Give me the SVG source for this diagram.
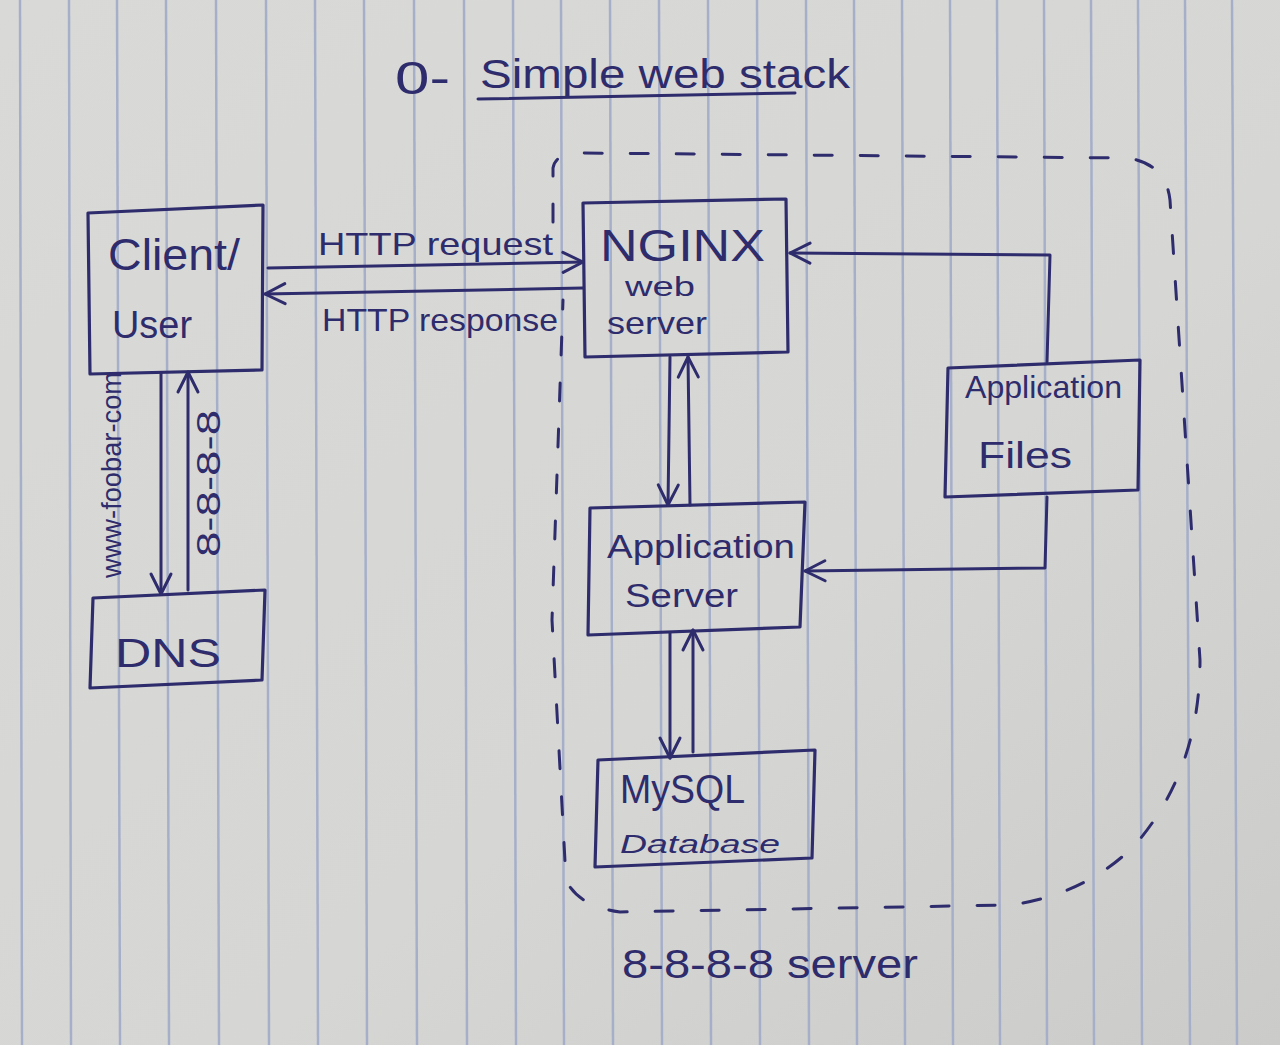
<svg xmlns="http://www.w3.org/2000/svg" width="1280" height="1045" viewBox="0 0 1280 1045">
  <defs>
    <linearGradient id="paper" x1="0" y1="0" x2="1" y2="1">
      <stop offset="0" stop-color="#d9dad7"/>
      <stop offset="0.6" stop-color="#d6d7d4"/>
      <stop offset="1" stop-color="#cbccc9"/>
    </linearGradient>
    <marker id="arr" markerUnits="userSpaceOnUse" markerWidth="26" markerHeight="26" viewBox="0 0 26 26" refX="23" refY="13" orient="auto">
      <path d="M3,3 L23,13 L3,23" fill="none" stroke="#2e2c6c" stroke-width="3" stroke-linecap="round" stroke-linejoin="round"/>
    </marker>
    <style>
      .ink { fill: none; stroke: #2e2c6c; stroke-width: 3; stroke-linejoin: round; stroke-linecap: round; }
      .box { fill: none; stroke: #2e2c6c; stroke-width: 3.2; stroke-linejoin: round; }
      .rule { stroke: #a6afca; stroke-width: 2.5; }
      .dash { fill: none; stroke: #2e2c6c; stroke-width: 3; stroke-dasharray: 18 28; stroke-linecap: round; }
      .t { fill: #2e2c6c; font-family: "Liberation Sans", "DejaVu Sans", sans-serif; }
    </style>
  </defs>

  <!-- paper -->
  <rect x="0" y="0" width="1280" height="1045" fill="url(#paper)"/>
  <g id="rules">
    <line class="rule" x1="20" y1="0" x2="22" y2="1045"/>
    <line class="rule" x1="69" y1="0" x2="71" y2="1045"/>
    <line class="rule" x1="117" y1="0" x2="120" y2="1045"/>
    <line class="rule" x1="166" y1="0" x2="169" y2="1045"/>
    <line class="rule" x1="216" y1="0" x2="219" y2="1045"/>
    <line class="rule" x1="266" y1="0" x2="269" y2="1045"/>
    <line class="rule" x1="315" y1="0" x2="318" y2="1045"/>
    <line class="rule" x1="364" y1="0" x2="367" y2="1045"/>
    <line class="rule" x1="414" y1="0" x2="417" y2="1045"/>
    <line class="rule" x1="464" y1="0" x2="467" y2="1045"/>
    <line class="rule" x1="513" y1="0" x2="516" y2="1045"/>
    <line class="rule" x1="561" y1="0" x2="564" y2="1045"/>
    <line class="rule" x1="610" y1="0" x2="613" y2="1045"/>
    <line class="rule" x1="659" y1="0" x2="662" y2="1045"/>
    <line class="rule" x1="708" y1="0" x2="711" y2="1045"/>
    <line class="rule" x1="757" y1="0" x2="760" y2="1045"/>
    <line class="rule" x1="806" y1="0" x2="809" y2="1045"/>
    <line class="rule" x1="854" y1="0" x2="857" y2="1045"/>
    <line class="rule" x1="902" y1="0" x2="905" y2="1045"/>
    <line class="rule" x1="950" y1="0" x2="953" y2="1045"/>
    <line class="rule" x1="997" y1="0" x2="1000" y2="1045"/>
    <line class="rule" x1="1044" y1="0" x2="1047" y2="1045"/>
    <line class="rule" x1="1091" y1="0" x2="1094" y2="1045"/>
    <line class="rule" x1="1138" y1="0" x2="1142" y2="1045"/>
    <line class="rule" x1="1185" y1="0" x2="1190" y2="1045"/>
    <line class="rule" x1="1232" y1="0" x2="1237" y2="1045"/>
  </g>

  <!-- title -->
  <g id="title">
    <text class="t" x="395" y="94" font-size="46" textLength="55" lengthAdjust="spacingAndGlyphs">0-</text>
    <text class="t" x="480" y="88" font-size="40" textLength="370" lengthAdjust="spacingAndGlyphs">Simple web stack</text>
    <path class="ink" d="M478,99 L795,93"/>
  </g>

  <!-- server boundary -->
  <g id="server-boundary">
    <path class="dash" d="M553,222 L553,168 Q556,152 582,153 L1128,158 Q1166,164 1170,200 L1200,660 Q1200,770 1135,845 Q1085,895 1010,905 L620,912 Q578,906 566,880 L552,620 L563,300"/>
    <text class="t" x="622" y="978" font-size="40" textLength="296" lengthAdjust="spacingAndGlyphs">8-8-8-8 server</text>
  </g>

  <!-- nodes -->
  <g id="client">
    <path class="box" d="M88,213 L263,205 L262,370 L90,374 Z"/>
    <text class="t" x="108" y="270" font-size="44" textLength="132" lengthAdjust="spacingAndGlyphs">Client/</text>
    <text class="t" x="112" y="338" font-size="38" textLength="80" lengthAdjust="spacingAndGlyphs">User</text>
  </g>
  <g id="dns">
    <path class="box" d="M93,598 L265,590 L262,680 L90,688 Z"/>
    <text class="t" x="115" y="667" font-size="40" textLength="106" lengthAdjust="spacingAndGlyphs">DNS</text>
  </g>
  <g id="nginx">
    <path class="box" d="M583,203 L786,199 L788,352 L585,357 Z"/>
    <text class="t" x="600" y="261" font-size="44" textLength="165" lengthAdjust="spacingAndGlyphs">NGINX</text>
    <text class="t" x="625" y="296" font-size="28" textLength="70" lengthAdjust="spacingAndGlyphs">web</text>
    <text class="t" x="607" y="334" font-size="32" textLength="100" lengthAdjust="spacingAndGlyphs">server</text>
  </g>
  <g id="app-files">
    <path class="box" d="M948,368 L1140,360 L1138,490 L945,497 Z"/>
    <text class="t" x="965" y="398" font-size="32" textLength="157" lengthAdjust="spacingAndGlyphs">Application</text>
    <text class="t" x="978" y="468" font-size="36" textLength="94" lengthAdjust="spacingAndGlyphs">Files</text>
  </g>
  <g id="app-server">
    <path class="box" d="M590,508 L805,502 L800,627 L588,635 Z"/>
    <text class="t" x="607" y="558" font-size="34" textLength="188" lengthAdjust="spacingAndGlyphs">Application</text>
    <text class="t" x="625" y="607" font-size="34" textLength="113" lengthAdjust="spacingAndGlyphs">Server</text>
  </g>
  <g id="mysql">
    <path class="box" d="M598,760 L815,750 L812,858 L595,867 Z"/>
    <text class="t" x="620" y="803" font-size="40" textLength="125" lengthAdjust="spacingAndGlyphs">MySQL</text>
    <text class="t" x="620" y="853" font-size="26" font-style="italic" textLength="160" lengthAdjust="spacingAndGlyphs">Database</text>
  </g>

  <!-- connectors -->
  <g id="connectors">
    <path class="ink" d="M268,268 L583,262" marker-end="url(#arr)"/>
    <text class="t" x="318" y="255" font-size="32" textLength="235" lengthAdjust="spacingAndGlyphs">HTTP request</text>
    <path class="ink" d="M583,288 L265,294" marker-end="url(#arr)"/>
    <text class="t" x="322" y="331" font-size="32" textLength="236" lengthAdjust="spacingAndGlyphs">HTTP response</text>

    <path class="ink" d="M1047,362 L1050,255 L790,253" marker-end="url(#arr)"/>
    <path class="ink" d="M1047,497 L1045,568 L805,571" marker-end="url(#arr)"/>

    <path class="ink" d="M670,357 L668,505" marker-end="url(#arr)"/>
    <path class="ink" d="M690,505 L688,357" marker-end="url(#arr)"/>

    <path class="ink" d="M670,633 L670,758" marker-end="url(#arr)"/>
    <path class="ink" d="M693,752 L693,630" marker-end="url(#arr)"/>

    <path class="ink" d="M161,373 L161,594" marker-end="url(#arr)"/>
    <text class="t" transform="translate(121,578) rotate(-90)" font-size="28" textLength="206" lengthAdjust="spacingAndGlyphs">www-foobar-com</text>
    <path class="ink" d="M188,590 L188,372" marker-end="url(#arr)"/>
    <text class="t" transform="translate(220,557) rotate(-90)" font-size="34" textLength="147" lengthAdjust="spacingAndGlyphs">8-8-8-8</text>
  </g>
</svg>
